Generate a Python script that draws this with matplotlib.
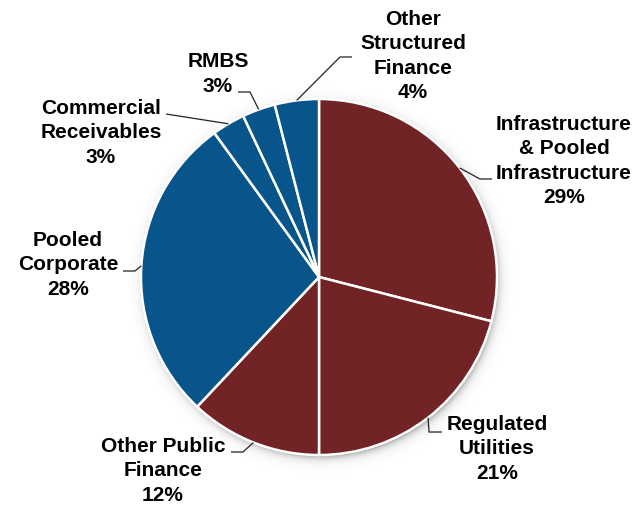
import numpy as np
import matplotlib
matplotlib.use("Agg")
import matplotlib.pyplot as plt

# Portfolio mix by sector (percent of total)
sectors = [
    "Infrastructure\n& Pooled\nInfrastructure",
    "Regulated\nUtilities",
    "Other Public\nFinance",
    "Pooled\nCorporate",
    "Commercial\nReceivables",
    "RMBS",
    "Other\nStructured\nFinance",
]
shares = [29, 21, 12, 28, 3, 3, 4]

RED = "#722325"
BLUE = "#07558A"
colors = [RED, RED, RED, BLUE, BLUE, BLUE, BLUE]

# Canvas geometry (pixels): pie centre and radius
W, H = 637, 505
CX, CY, R = 319, 277, 178


def to_data(px, py):
    return ((px - CX) / R, (CY - py) / R)


# Label placement (pixel positions): text centre, leader elbow, leader end
text_pos = [(564, 161), (497, 449), (163, 471), (68, 265), (101, 133), (218, 74), (413, 56)]
elbow_pos = [(480, 179), (429, 432), (243, 452), (135, 271), (166, 114), (250, 92), (340, 57)]
end_pos = [(492, 179), (442, 432), (231, 452), (123, 271), (166, 114), (238, 92), (352, 57)]

plt.rcParams["font.family"] = ["Liberation Sans", "DejaVu Sans"]

fig = plt.figure(figsize=(W / 100, H / 100), dpi=100)
ax = fig.add_axes([0, 0, 1, 1])

x0, x1 = -CX / R, (W - CX) / R
y0, y1 = (CY - H) / R, CY / R

# soft drop shadow behind the pie
gx = np.linspace(x0, x1, W)
gy = np.linspace(y0, y1, H)
XX, YY = np.meshgrid(gx, gy)
d = np.hypot(XX - 0.012, YY + 0.02)
alpha = 0.45 * np.exp(-np.clip(d - 0.985, 0, None) / 0.022)
alpha[d < 0.9] = 0
shadow = np.zeros((H, W, 4))
shadow[..., :3] = 0.25
shadow[..., 3] = alpha
ax.imshow(shadow, extent=(x0, x1, y0, y1), origin="lower", zorder=0,
          interpolation="bilinear", aspect="auto")

wedges, _ = ax.pie(
    shares,
    colors=colors,
    startangle=90,
    counterclock=False,
    radius=1,
    center=(0, 0),
    wedgeprops=dict(edgecolor="white", linewidth=1.8, zorder=2),
)

for w, name, share, tp, ep, np_ in zip(wedges, sectors, shares, text_pos, elbow_pos, end_pos):
    ang = np.deg2rad((w.theta1 + w.theta2) / 2)
    anchor = (np.cos(ang), np.sin(ang))
    e = to_data(*ep)
    n = to_data(*np_)
    ax.plot([anchor[0], e[0], n[0]], [anchor[1], e[1], n[1]],
            color="#222222", lw=0.9, zorder=3, solid_capstyle="butt")
    tx, ty = to_data(*tp)
    ax.text(tx, ty, f"{name}\n{share}%", ha="center", va="center",
            multialignment="center", fontsize=15, fontweight="bold",
            linespacing=1.36, color="black", zorder=4)

ax.set_xlim(x0, x1)
ax.set_ylim(y0, y1)
ax.set_aspect("auto")
ax.axis("off")

fig.savefig("out.png", dpi=100, facecolor="white")
